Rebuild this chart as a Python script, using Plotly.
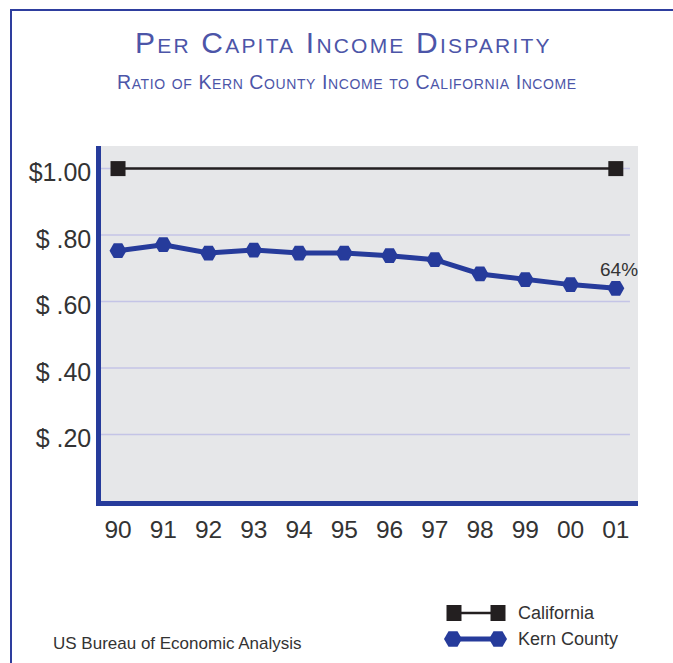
import plotly.graph_objects as go

# ---- data -------------------------------------------------------------
years = ["90", "91", "92", "93", "94", "95", "96", "97", "98", "99", "00", "01"]
kern_ratio = [0.753, 0.771, 0.746, 0.755, 0.746, 0.746, 0.738, 0.726, 0.683, 0.666, 0.651, 0.640]
california_years = ["90", "01"]
california_ratio = [1.00, 1.00]
y_tick_values = [0.2, 0.4, 0.6, 0.8, 1.0]
y_tick_labels = ["$ .20", "$ .40", "$ .60", "$ .80", "$1.00"]

# ---- styling -----------------------------------------------------------
W, H = 673, 663
ML, MR, MT, MB = 101, 35, 146, 162
PW, PH = W - ML - MR, H - MT - MB

BLUE = "#263b9b"
FRAME = "#2e3e9e"
TITLE = "#4c55a8"
GRID = "#c4c4e6"
BG = "#e6e7e9"
BLACK = "#231f20"
TEXT = "#333333"
FONT = "Liberation Sans, Arial, sans-serif"


def px(x):
    """pixel x -> paper x"""
    return (x - ML) / PW


def py(y):
    """pixel y -> paper y"""
    return (H - MB - y) / PH


fig = go.Figure()

fig.add_trace(go.Scatter(
    x=california_years, y=california_ratio, mode="lines+markers",
    line=dict(color=BLACK, width=2.5),
    marker=dict(symbol="square", size=15, color=BLACK),
    showlegend=False, cliponaxis=False, name="California",
))
fig.add_trace(go.Scatter(
    x=years, y=kern_ratio, mode="lines+markers",
    line=dict(color=BLUE, width=5),
    marker=dict(symbol="hexagon2", size=17, color=BLUE),
    showlegend=False, cliponaxis=False, name="Kern County",
))

# value label on the last Kern County point (category index of the last year)
last = len(years) - 1
fig.add_annotation(
    x=last, y=kern_ratio[last], text=f"{round(kern_ratio[last] * 100)}%",
    showarrow=False, xshift=3, yshift=19,
    font=dict(family=FONT, size=19, color=TEXT),
)

shapes = []
# horizontal guide lines
for v in y_tick_values:
    shapes.append(dict(type="line", xref="x domain", yref="y", x0=0, x1=0.985,
                       y0=v, y1=v, line=dict(color=GRID, width=1.5), layer="below"))

# outer frame (left and top rules)
shapes.append(dict(type="line", xref="paper", yref="paper", x0=px(11), x1=px(11),
                   y0=py(9), y1=py(H + 5), line=dict(color=FRAME, width=2)))
shapes.append(dict(type="line", xref="paper", yref="paper", x0=px(10), x1=px(W + 5),
                   y0=py(10), y1=py(10), line=dict(color=FRAME, width=2)))

# legend keys
def hexagon(cx, cy, r):
    h = r * 0.866
    pts = [(cx - r, cy), (cx - r / 2, cy - h), (cx + r / 2, cy - h),
           (cx + r, cy), (cx + r / 2, cy + h), (cx - r / 2, cy + h)]
    return "M " + " L ".join(f"{px(a):.5f},{py(b):.5f}" for a, b in pts) + " Z"


cal_y, kern_y = 613, 639
shapes.append(dict(type="line", xref="paper", yref="paper", x0=px(454), x1=px(498),
                   y0=py(cal_y), y1=py(cal_y), line=dict(color=BLACK, width=2.5)))
for cx in (454, 498):
    shapes.append(dict(type="rect", xref="paper", yref="paper",
                       x0=px(cx - 7.5), x1=px(cx + 7.5), y0=py(cal_y - 8), y1=py(cal_y + 8),
                       fillcolor=BLACK, line=dict(width=0)))
shapes.append(dict(type="line", xref="paper", yref="paper", x0=px(453), x1=px(498),
                   y0=py(kern_y), y1=py(kern_y), line=dict(color=BLUE, width=5)))
for cx in (453, 498):
    shapes.append(dict(type="path", xref="paper", yref="paper", path=hexagon(cx, kern_y, 9),
                       fillcolor=BLUE, line=dict(width=0)))

fig.update_layout(shapes=shapes)

# legend text
for label, yy in (("California", cal_y), ("Kern County", kern_y)):
    fig.add_annotation(xref="paper", yref="paper", x=px(516), y=py(yy), text=label,
                       xanchor="left", yanchor="middle", showarrow=False,
                       font=dict(family=FONT, size=18, color=TEXT))

# source note
fig.add_annotation(xref="paper", yref="paper", x=px(51), y=py(643),
                   text="US Bureau of Economic Analysis", xanchor="left", yanchor="middle",
                   showarrow=False, font=dict(family=FONT, size=17, color=TEXT))

# titles (small caps)
fig.add_annotation(xref="paper", yref="paper", x=px(343.5), y=py(43),
                   text='<span style="letter-spacing:2.2px">Per Capita Income Disparity</span>',
                   xanchor="center", yanchor="middle", showarrow=False,
                   font=dict(family=FONT, size=30, color=TITLE, variant="small-caps"))
fig.add_annotation(xref="paper", yref="paper", x=px(346.5), y=py(82),
                   text='<span style="letter-spacing:0.6px">Ratio of Kern County Income to California Income</span>',
                   xanchor="center", yanchor="middle", showarrow=False,
                   font=dict(family=FONT, size=19.5, color=TITLE, variant="small-caps"))

fig.update_layout(
    width=W, height=H,
    margin=dict(l=ML, r=MR, t=MT, b=MB, pad=0),
    paper_bgcolor="white", plot_bgcolor=BG,
    font=dict(family=FONT, color=TEXT),
    xaxis=dict(
        type="category", categoryorder="array", categoryarray=years,
        range=[-0.376, 11.49], showgrid=False, zeroline=False,
        showline=True, linecolor=BLUE, linewidth=4.5, ticks="",
        tickfont=dict(family=FONT, size=24.5, color=TEXT),
        ticklabelstandoff=3,
    ),
    yaxis=dict(
        range=[0, 1.068], tickvals=y_tick_values, ticktext=y_tick_labels,
        showgrid=False, zeroline=False,
        showline=True, linecolor=BLUE, linewidth=4.5, ticks="",
        tickfont=dict(family=FONT, size=25, color=TEXT),
        ticklabelstandoff=0, ticklabelshift=4,
    ),
)

fig.write_html("out.html")
